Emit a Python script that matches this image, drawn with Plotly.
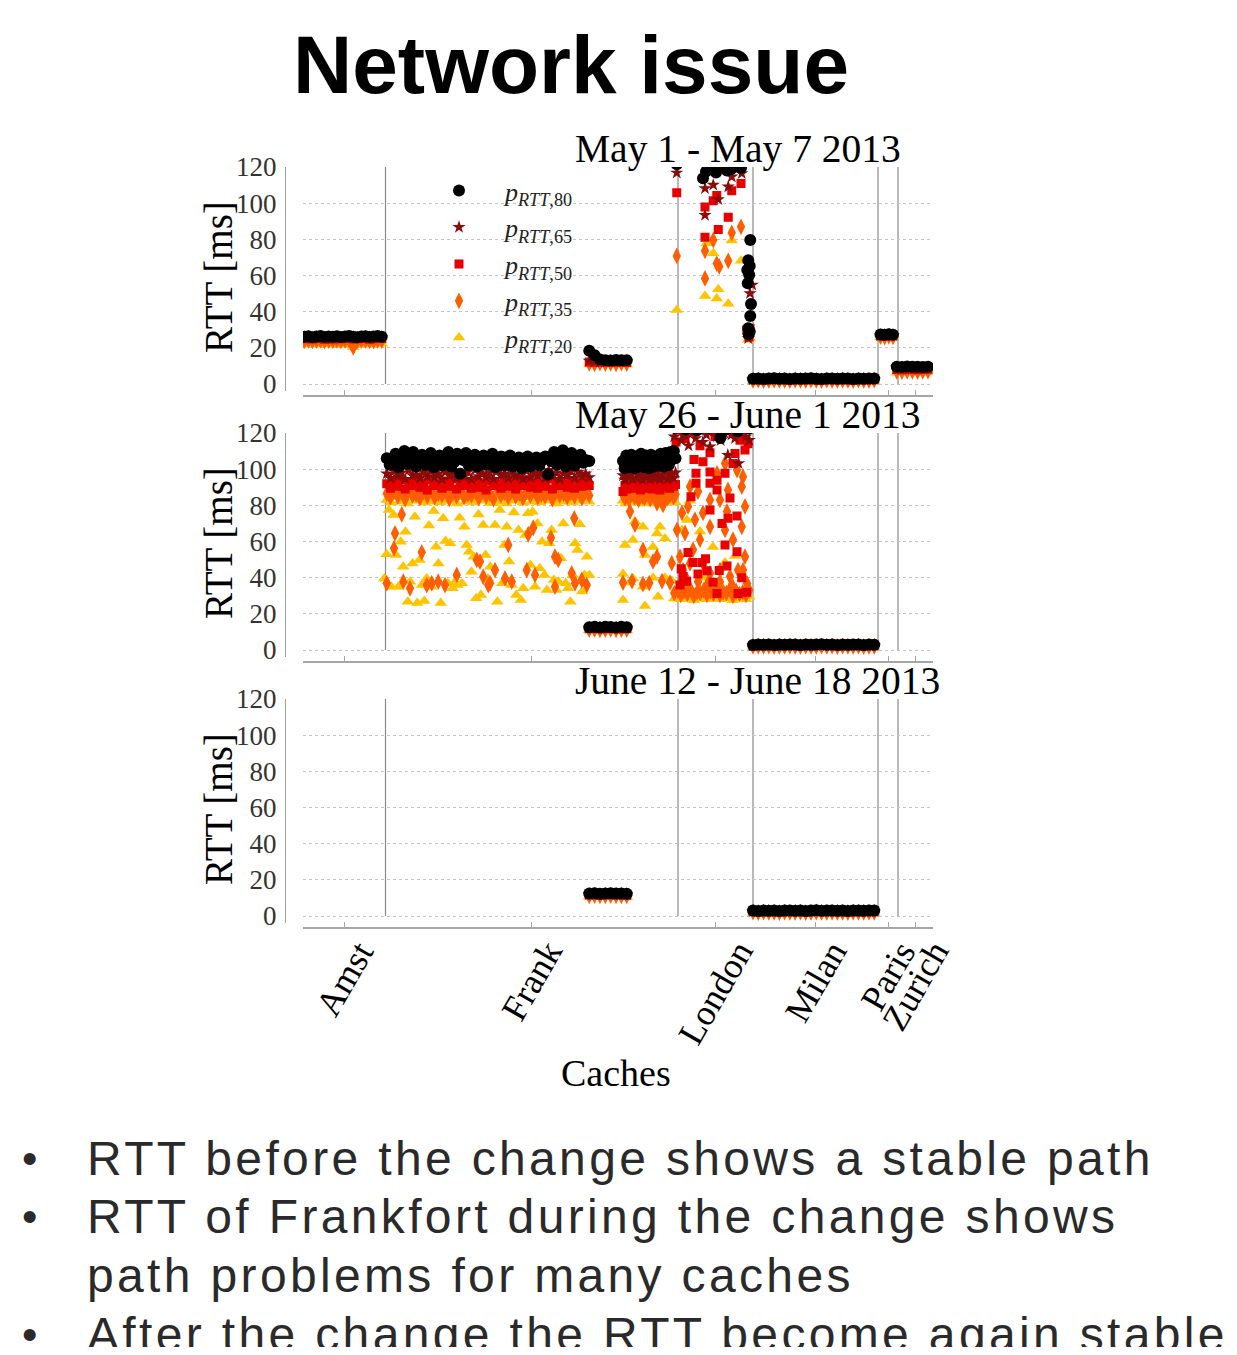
import numpy as np
import plotly.graph_objects as go

# ---------------- chart data ----------------
CACHES = ["Amst", "Frank", "London", "Milan", "Paris", "Zurich"]
CACHE_COUNTS = [33, 117, 30, 50, 8, 14]          # caches per city (x = cache index)
Y_TICKS = [0, 20, 40, 60, 80, 100, 120]
PANEL_TITLES = ["May 1 - May 7 2013", "May 26 - June 1 2013", "June 12 - June 18 2013"]
SERIES = ["p80", "p65", "p50", "p35", "p20"]
SERIES_LABELS = {
    "p80": "<i>p</i><sub><i>RTT</i>,80</sub>",
    "p65": "<i>p</i><sub><i>RTT</i>,65</sub>",
    "p50": "<i>p</i><sub><i>RTT</i>,50</sub>",
    "p35": "<i>p</i><sub><i>RTT</i>,35</sub>",
    "p20": "<i>p</i><sub><i>RTT</i>,20</sub>",
}

# ---- Panel 1 : May 1 - May 7 2013 (RTT in ms) ----
P1_AMST_RANGE = (0, 31)
P1_AMST_P80 = [26.1, 26.4, 25.9, 26.2, 26.5, 26.0, 26.3, 26.1, 26.4, 26.0,
               26.2, 26.5, 26.1, 25.9, 26.3, 26.4, 26.0, 26.2, 26.5, 26.1]
P1_AMST_P65 = [25.7, 25.9, 25.6, 25.8, 26.0, 25.7, 25.8, 25.6, 25.9, 25.7,
               25.8, 26.0, 25.7, 25.6, 25.9, 25.8, 25.7, 25.9, 26.0, 25.8]
P1_AMST_P50 = [25.0, 25.3, 24.9, 25.1, 25.2, 24.8, 25.0, 24.9, 25.2, 25.0,
               25.1, 25.3, 24.9, 25.0, 25.2, 25.1, 24.8, 25.0, 25.2, 25.1]
P1_AMST_P35 = [23.9, 24.2, 23.8, 24.0, 24.1, 23.7, 24.0, 23.9, 24.1, 23.8,
               24.0, 24.2, 20.2, 23.8, 24.0, 24.1, 23.9, 23.7, 24.1, 24.0]
P1_AMST_P20 = [22.4, 22.0, 22.6, 21.8, 22.3, 22.1, 22.5, 22.2, 21.6, 22.4,
               22.0, 21.9, 20.4, 22.3, 21.7, 22.5, 22.1, 21.8, 22.4, 22.2]

P1_FRANK_RANGE = (114, 129)
P1_FRANK_P80 = [18.4, 15.9, 13.6, 13.2, 13.0, 13.3, 13.1, 13.2]
P1_FRANK_P65 = [12.8, 12.6, 12.7, 12.5, 12.8, 12.6, 12.7, 12.6]
P1_FRANK_P50 = [12.1, 12.0, 12.2, 11.9, 12.1, 12.0, 12.2, 12.0]
P1_FRANK_P35 = [11.4, 11.2, 11.5, 11.3, 11.4, 11.2, 11.5, 11.3]
P1_FRANK_P20 = [10.8, 10.6, 10.9, 10.7, 10.8, 10.6, 10.9, 10.7]

P1_LON_P80_IDX = [149, 159.5, 160.7, 162.7, 164.7, 166.7, 169.1, 170.7, 173.1, 174.7,
                  178.4, 177.6, 178.2, 177.2, 178.0, 177.4, 178.7, 178.4, 177.6, 178.2, 177.8]
P1_LON_P80 = [121.5, 113.8, 117.5, 120.8, 117.0, 121.0, 118.0, 118.8, 121.2, 119.5,
              79.6, 68.5, 65.2, 63.1, 60.3, 55.7, 44.2, 37.6, 30.8, 29.0, 27.5]
P1_LON_P65_IDX = [149, 161.0, 160.3, 163.6, 165.6, 160.3, 169.6, 171.0, 175.0, 179.2, 178.3, 177.6]
P1_LON_P65 = [116.8, 119.7, 108.2, 110.1, 102.1, 93.4, 109.1, 114.6, 116.5, 54.8, 50.1, 25.2]
P1_LON_P50_IDX = [149, 160.3, 163.6, 165.0, 169.6, 171.0, 174.7, 160.3, 165.6, 177.0, 177.6, 178.3, 177.9]
P1_LON_P50 = [105.8, 97.9, 101.3, 104.2, 92.2, 106.9, 110.9, 81.1, 85.5, 29.8, 27.2, 30.8, 26.0]
P1_LON_P35_IDX = [149, 160.3, 163.6, 160.3, 165.0, 166.0, 169.6, 171.0, 174.7, 177.4, 178.2]
P1_LON_P35 = [70.8, 73.7, 79.6, 58.4, 66.6, 65.0, 68.1, 83.6, 86.9, 29.9, 27.5]
P1_LON_P20_IDX = [149, 160.3, 165.0, 165.6, 169.6, 161.0, 171.0, 174.7, 163.6, 177.6, 178.2]
P1_LON_P20 = [40.9, 48.6, 47.3, 52.4, 44.4, 77.8, 79.3, 68.1, 72.3, 24.5, 25.5]

P1_MILAN_RANGE = (179.5, 228)
P1_MILAN_P80 = [2.9, 3.1, 2.8, 3.0, 3.2, 2.9, 3.0, 2.8, 3.1, 2.9, 3.0, 3.2,
                2.9, 2.8, 3.1, 3.0, 2.9, 3.1, 3.0, 2.8, 3.1, 2.9, 3.0, 3.1]
P1_MILAN_P65 = [2.6, 2.7, 2.5, 2.6, 2.8, 2.6, 2.7, 2.5, 2.7, 2.6, 2.6, 2.8,
                2.6, 2.5, 2.7, 2.6, 2.6, 2.7, 2.6, 2.5, 2.7, 2.6, 2.6, 2.7]
P1_MILAN_P50 = [2.3, 2.4, 2.2, 2.3, 2.4, 2.3, 2.3, 2.2, 2.4, 2.3, 2.3, 2.4,
                2.3, 2.2, 2.4, 2.3, 2.3, 2.4, 2.3, 2.2, 2.4, 2.3, 2.3, 2.4]
P1_MILAN_P35 = [2.0, 2.1, 1.9, 2.0, 2.1, 2.0, 2.0, 1.9, 2.1, 2.0, 2.0, 2.1,
                2.0, 1.9, 2.1, 2.0, 2.0, 2.1, 2.0, 1.9, 2.1, 2.0, 2.0, 2.1]
P1_MILAN_P20 = [1.7, 1.8, 1.6, 1.7, 1.8, 1.7, 1.7, 1.6, 1.8, 1.7, 1.7, 1.8,
                1.7, 1.6, 1.8, 1.7, 1.7, 1.8, 1.7, 1.6, 1.8, 1.7, 1.7, 1.8]

P1_PARIS_RANGE = (230.5, 235.5)
P1_PARIS_P80 = [27.4, 27.2, 27.5, 27.3]
P1_PARIS_P65 = [27.0, 26.9, 27.1, 27.0]
P1_PARIS_P50 = [26.6, 26.5, 26.7, 26.6]
P1_PARIS_P35 = [26.2, 26.0, 26.3, 26.1]
P1_PARIS_P20 = [25.8, 25.6, 25.9, 25.7]

P1_ZURICH_RANGE = (237, 249.5)
P1_ZURICH_P80 = [9.6, 9.4, 9.7, 9.5, 9.6, 9.4, 9.5]
P1_ZURICH_P65 = [9.0, 8.9, 9.1, 9.0, 8.9, 9.0, 9.1]
P1_ZURICH_P50 = [8.0, 7.9, 8.1, 8.0, 7.9, 8.0, 8.1]
P1_ZURICH_P35 = [7.0, 6.9, 7.1, 7.0, 6.9, 7.0, 7.1]
P1_ZURICH_P20 = [6.2, 6.1, 6.3, 6.2, 6.1, 6.2, 6.3]

# ---- Panel 2 : May 26 - June 1 2013 ----
P2_FRANK_A_RANGE = (33, 114)
P2_FRANK_A_P80 = [106.0, 102.5, 104.0, 108.5, 101.0, 105.5, 110.0, 103.0, 106.5, 109.5,
                  101.5, 105.0, 108.0, 102.5, 106.0, 109.0, 101.0, 104.5, 107.5, 102.0,
                  105.5, 109.5, 101.5, 104.0, 108.5, 97.5, 105.0, 109.0, 102.0, 106.0,
                  108.0, 101.5, 104.5, 107.5, 102.5, 105.5, 108.5, 101.0, 104.0, 107.0,
                  102.0, 105.0, 107.5, 101.5, 104.5, 106.5, 100.5, 103.5, 107.0, 101.5,
                  104.0, 106.5, 102.0, 105.0, 107.0, 97.0, 104.5, 109.5, 102.5, 106.0,
                  110.5, 101.5, 105.5, 109.0, 102.0, 106.5, 108.0, 103.5, 105.0, 104.5]
P2_FRANK_A_P65 = [97.5, 95.0, 99.0, 96.0, 98.0, 94.5, 99.5, 96.5, 97.0, 95.0,
                  98.5, 96.0, 99.0, 95.5, 97.5, 94.5, 98.5, 96.5, 99.0, 95.0,
                  97.0, 96.0, 98.5, 94.5, 99.5, 96.0, 97.5, 95.5, 98.0, 94.5,
                  99.0, 96.5, 97.5, 95.0, 98.5, 96.0, 97.0, 94.5, 99.0, 95.5,
                  98.0, 96.5, 97.5, 95.0, 99.5, 96.0, 98.0, 94.5, 97.5, 96.5,
                  99.0, 95.0, 98.5, 96.0, 97.5, 95.5]
P2_FRANK_A_P50 = [92.0, 89.5, 93.5, 90.5, 94.0, 89.0, 92.5, 91.0, 93.5, 90.0,
                  92.5, 88.5, 94.0, 91.0, 92.0, 89.5, 93.5, 90.5, 94.5, 89.0,
                  92.0, 91.0, 93.0, 89.5, 94.0, 90.0, 92.5, 88.5, 93.5, 91.0,
                  92.0, 89.5, 94.0, 90.5, 93.0, 89.0, 92.5, 91.0, 94.0, 90.0,
                  93.0, 89.5, 92.5, 90.5, 94.5, 89.0, 93.0, 91.0, 92.0, 90.0,
                  93.5, 89.5, 92.5, 90.5, 94.0, 91.0]
P2_FRANK_A_P35_BAND = [86.5, 84.5, 88.0, 85.0, 87.5, 83.5, 88.5, 85.5, 86.0, 84.0,
                       87.5, 85.0, 89.0, 84.5, 86.5, 85.5, 88.0, 83.5, 87.0, 85.0,
                       88.5, 84.5, 86.0, 85.5, 87.5, 84.0, 88.0, 85.0, 86.5, 83.5,
                       89.0, 85.5, 87.0, 84.5, 88.0, 85.0, 86.5, 84.0, 87.5, 85.5,
                       88.5, 84.5, 86.0, 85.0, 87.5, 83.5, 88.0, 85.5, 86.5, 84.5,
                       87.0, 85.0, 88.5, 84.0, 87.5, 85.5]
P2_FRANK_A_P20_BAND = [83.0, 81.5, 84.5, 82.0, 83.5, 81.0, 84.0, 82.5, 83.0, 81.5,
                       84.5, 82.0, 83.5, 81.5, 84.0, 82.5, 83.0, 81.0, 84.5, 82.0,
                       83.5, 81.5, 84.0, 82.5, 83.0, 81.5, 84.5, 82.0, 83.5, 81.0,
                       84.0, 82.5, 83.0, 81.5, 84.5, 82.0, 83.5, 81.5, 84.0, 82.5,
                       83.0, 81.0, 84.5, 82.0, 83.5, 81.5, 84.0, 82.5, 83.0, 82.0]
P2_FRANK_A_P35_SC_IDX = [33.0, 35.9, 36.3, 39.0, 39.6, 42.3, 47.0, 49.0, 51.0, 53.6,
                         56.3, 61.0, 69.0, 70.3, 71.6, 73.6, 74.3, 76.3, 80.3, 81.6,
                         83.0, 89.0, 89.6, 91.6, 92.3, 98.7, 100.3, 100.3, 101.6, 107.0,
                         108.0, 108.3, 111.0, 113.0]
P2_FRANK_A_P35_SC = [36.9, 56.2, 64.5, 75.0, 37.8, 34.1, 54.0, 35.9, 36.9, 37.8,
                     35.9, 41.5, 49.8, 48.9, 40.5, 35.9, 36.9, 44.2, 39.6, 58.1,
                     37.8, 44.2, 64.0, 67.6, 41.5, 62.1, 51.6, 35.0, 49.8, 42.4,
                     72.8, 36.9, 38.7, 35.9]
P2_FRANK_A_P20_SC_RANGE = (32, 114)
P2_FRANK_A_P20_SC = [39.6, 52.9, 77.4, 35.0, 74.7, 52.5, 35.0, 59.9, 46.1, 65.4,
                     26.7, 37.8, 47.9, 73.7, 26.0, 49.8, 35.9, 27.1, 39.6, 68.8,
                     35.0, 76.9, 57.1, 47.9, 26.0, 72.8, 60.3, 36.9, 59.0, 34.1,
                     37.8, 35.9, 73.2, 36.9, 68.2, 58.1, 54.4, 43.3, 51.6, 28.6,
                     75.0, 30.4, 69.1, 52.5, 39.6, 46.1, 81.1, 69.1, 26.7, 77.4,
                     36.9, 58.1, 68.2, 48.9, 35.9, 76.1, 30.4, 66.4, 27.7, 34.1,
                     63.6, 75.6, 47.0, 76.4, 35.0, 70.0, 45.2, 59.9, 41.5, 33.2,
                     59.0, 66.4, 38.7, 33.2, 37.8, 50.7, 70.0, 36.9, 34.1, 26.7,
                     41.5, 59.0, 55.3, 69.6, 32.3, 41.5, 51.6, 41.5]

P2_FRANK_BAND_RANGE = (114, 129)
P2_FRANK_BAND_P80 = [12.6, 12.9, 12.5, 12.8, 12.7, 12.5, 12.9, 12.6]
P2_FRANK_BAND_P65 = [12.2, 12.4, 12.1, 12.3, 12.2, 12.1, 12.4, 12.2]
P2_FRANK_BAND_P50 = [11.8, 11.9, 11.7, 11.8, 11.9, 11.7, 11.8, 11.8]
P2_FRANK_BAND_P35 = [11.3, 11.4, 11.2, 11.3, 11.4, 11.2, 11.3, 11.3]
P2_FRANK_BAND_P20 = [10.9, 11.0, 10.8, 10.9, 11.0, 10.8, 10.9, 10.9]

P2_FRANK_B_RANGE = (127.5, 148.5)
P2_FRANK_B_P80 = [104.5, 100.5, 107.5, 103.0, 101.0, 108.0, 104.0, 100.5, 107.0, 103.5,
                  101.5, 108.5, 104.0, 101.0, 107.5, 103.0, 100.5, 108.0, 104.5, 101.5,
                  107.0, 103.5, 102.0, 108.5, 105.0, 101.5, 109.0, 104.5, 102.5, 109.5,
                  105.5, 110.0, 106.0]
P2_FRANK_B_P65 = [96.5, 94.0, 98.0, 95.5, 97.0, 94.5, 98.5, 95.0, 96.5, 97.5,
                  94.0, 98.0, 95.5, 96.5, 94.5, 97.5, 95.0, 98.0, 96.0, 94.5,
                  97.0, 95.5, 98.5, 94.5, 96.5, 97.5, 95.0, 98.0]
P2_FRANK_B_P50 = [87.6, 91.0, 89.0, 92.5, 90.0, 93.0, 89.5, 91.5, 92.5, 88.5,
                  91.0, 93.5, 89.5, 90.5, 92.0, 89.0, 93.0, 90.5, 91.5, 88.5,
                  92.5, 90.0, 91.0, 93.0, 89.5, 92.0, 90.5, 91.5]
P2_FRANK_B_P35_BAND = [86.0, 84.0, 87.5, 83.5, 85.5, 87.0, 84.5, 86.5, 83.0, 88.0,
                       85.0, 84.0, 86.5, 87.5, 83.5, 85.5, 86.0, 84.5, 87.0, 83.5,
                       86.5, 85.0, 88.0, 84.0, 85.5, 87.0, 84.5, 86.0]
P2_FRANK_B_P20_BAND = [82.5, 81.0, 83.5, 82.0, 84.0, 81.5, 83.0, 82.5, 83.5, 81.0,
                       82.5, 83.0, 81.5, 84.0, 82.0, 83.0, 81.5, 83.5, 82.0, 84.0,
                       82.5, 81.5]
P2_FRANK_B_P35_SC_IDX = [127.5, 130.3, 131.1, 132.3, 135.5, 135.5, 138.0, 139.5, 141.1, 141.1,
                         143.1, 143.5, 146.3, 147.0]
P2_FRANK_B_P35_SC = [37.3, 76.6, 38.1, 69.3, 55.3, 36.5, 37.0, 49.0, 51.6, 81.1,
                     38.1, 80.2, 37.3, 48.0]
P2_FRANK_B_P20_SC_IDX = [127.5, 127.5, 128.3, 130.3, 131.5, 131.5, 132.3, 135.5, 135.5, 136.3,
                         136.3, 139.5, 139.5, 141.1, 141.5, 142.3, 144.3, 144.3, 147.1]
P2_FRANK_B_P20_SC = [42.0, 27.6, 58.1, 37.3, 60.8, 39.6, 71.0, 68.1, 35.0, 52.5,
                     24.3, 57.0, 40.0, 64.4, 29.5, 68.1, 61.7, 40.0, 38.1]

P2_LON_RANGE = (148, 178)
P2_LON_P80 = [123.0, 125.0, 122.0, 124.0, 121.5, 126.0, 123.0, 124.0, 117.2, 122.0,
              125.0, 121.0, 124.0, 122.5]
P2_LON_P65 = [118.0, 121.0, 116.0, 119.0, 113.0, 120.0, 117.0, 122.0, 115.0, 119.0,
              112.4, 121.0, 118.0, 116.0, 120.0, 107.8, 119.0, 117.0, 103.2, 121.0,
              118.0, 116.0]
P2_LON_P50_IDX = [148.7, 150.3, 151.5, 152.3, 153.5, 154.7, 155.5, 155.9, 156.7, 156.7,
                  158.3, 159.1, 159.5, 161.1, 162.3, 162.3, 162.3, 162.3, 164.3, 165.1,
                  165.1, 165.1, 167.1, 168.3, 168.3, 169.1, 169.5, 170.3, 171.5, 172.3,
                  173.1, 173.1, 173.5, 174.3, 176.3, 177.5, 150.8, 153.0, 157.5, 160.5,
                  163.5, 166.0, 175.0, 177.0]
P2_LON_P50 = [115.0, 35.9, 40.6, 117.0, 53.9, 84.8, 48.4, 105.4, 97.7, 92.2,
              113.0, 48.4, 104.1, 43.8, 109.1, 98.5, 92.2, 77.4, 118.0, 93.9,
              88.5, 31.3, 70.0, 97.7, 58.1, 46.4, 72.8, 84.0, 103.2, 108.7,
              74.1, 54.4, 31.3, 116.0, 110.6, 114.0, 45.0, 38.0, 42.0, 50.5,
              37.5, 44.0, 40.0, 32.0]
P2_LON_P35_BAND = [31.5, 33.0, 30.5, 32.5, 31.0, 33.5, 30.0, 32.0, 31.5, 33.0,
                   30.5, 32.5, 31.0, 33.0, 30.5, 32.0, 31.5, 33.5, 30.0, 32.5,
                   31.0, 32.0, 30.5, 33.0]
P2_LON_P35_SC_IDX = [175.0, 176.3, 175.0, 176.3, 175.5, 177.1, 169.5, 166.3, 169.1, 168.3,
                     171.5, 162.3, 159.5, 162.3, 158.3, 155.5, 153.5, 156.3, 152.3, 150.3,
                     154.3, 159.5, 162.3, 166.3, 170.3, 173.5, 153.1, 157.5, 161.5, 166.3,
                     171.1, 151.1, 157.5, 165.1, 168.3, 173.1, 175.5, 154.3, 149.1, 151.5]
P2_LON_P35_SC = [90.3, 79.4, 68.1, 51.6, 44.2, 36.9, 88.5, 83.0, 76.6, 66.4,
                 61.0, 83.0, 75.8, 68.1, 61.0, 55.5, 79.4, 72.1, 64.7, 51.6,
                 47.9, 47.9, 42.4, 44.2, 40.6, 44.2, 38.7, 37.8, 36.9, 37.8,
                 36.0, 75.8, 87.6, 97.7, 103.2, 99.5, 95.8, 90.3, 66.4, 44.2]
P2_LON_P20_BAND = [28.5, 29.5, 28.0, 29.0, 28.5, 30.0, 27.5, 29.0, 28.5, 29.5,
                   28.0, 29.0, 28.5, 30.0, 28.0, 29.5, 28.5, 29.0, 27.5, 29.5,
                   28.5, 29.0, 28.0, 29.5]
P2_LON_P20_SC_IDX = [151.1, 153.1, 158.3, 163.5, 168.3, 154.3, 160.3, 172.3, 176.3, 166.3]
P2_LON_P20_SC = [66.4, 71.9, 65.5, 57.0, 48.4, 82.5, 40.0, 52.0, 32.5, 36.0]

P2_MILAN_RANGE = (179.5, 228)
P2_MILAN_P80 = [2.8, 3.0, 2.9, 3.1, 2.8, 3.0, 2.9, 3.1, 3.0, 2.8, 3.1, 2.9,
                3.0, 3.2, 2.9, 3.0, 2.8, 3.1, 2.9, 3.0, 3.1, 2.8, 3.0, 2.9]
P2_MILAN_P65 = [2.5, 2.7, 2.6, 2.7, 2.5, 2.6, 2.6, 2.7, 2.6, 2.5, 2.7, 2.6,
                2.6, 2.8, 2.6, 2.7, 2.5, 2.7, 2.6, 2.6, 2.7, 2.5, 2.6, 2.6]
P2_MILAN_P50 = [2.2, 2.4, 2.3, 2.4, 2.2, 2.3, 2.3, 2.4, 2.3, 2.2, 2.4, 2.3,
                2.3, 2.5, 2.3, 2.4, 2.2, 2.4, 2.3, 2.3, 2.4, 2.2, 2.3, 2.3]
P2_MILAN_P35 = [2.0, 2.1, 2.0, 2.1, 1.9, 2.0, 2.0, 2.1, 2.0, 1.9, 2.1, 2.0,
                2.0, 2.2, 2.0, 2.1, 1.9, 2.1, 2.0, 2.0, 2.1, 1.9, 2.0, 2.0]
P2_MILAN_P20 = [1.7, 1.8, 1.7, 1.8, 1.6, 1.7, 1.7, 1.8, 1.7, 1.6, 1.8, 1.7,
                1.7, 1.9, 1.7, 1.8, 1.6, 1.8, 1.7, 1.7, 1.8, 1.6, 1.7, 1.7]

# ---- Panel 3 : June 12 - June 18 2013 ----
P3_FRANK_RANGE = (114, 129)
P3_FRANK_P80 = [12.4, 12.6, 12.3, 12.5, 12.6, 12.4, 12.5, 12.3]
P3_FRANK_P65 = [12.0, 12.2, 11.9, 12.1, 12.2, 12.0, 12.1, 11.9]
P3_FRANK_P50 = [11.6, 11.8, 11.5, 11.7, 11.8, 11.6, 11.7, 11.5]
P3_FRANK_P35 = [11.2, 11.3, 11.1, 11.2, 11.3, 11.2, 11.2, 11.1]
P3_FRANK_P20 = [10.8, 10.9, 10.7, 10.8, 10.9, 10.8, 10.8, 10.7]

P3_MILAN_RANGE = (179.5, 228)
P3_MILAN_P80 = [3.0, 2.8, 3.1, 2.9, 3.0, 2.8, 3.1, 3.0, 2.9, 3.1, 2.8, 3.0,
                3.2, 2.9, 3.0, 3.1, 2.9, 3.0, 2.8, 3.1, 3.0, 2.9, 3.1, 3.0]
P3_MILAN_P65 = [2.7, 2.5, 2.7, 2.6, 2.6, 2.5, 2.7, 2.6, 2.6, 2.7, 2.5, 2.6,
                2.8, 2.6, 2.6, 2.7, 2.6, 2.6, 2.5, 2.7, 2.6, 2.6, 2.7, 2.6]
P3_MILAN_P50 = [2.4, 2.2, 2.4, 2.3, 2.3, 2.2, 2.4, 2.3, 2.3, 2.4, 2.2, 2.3,
                2.5, 2.3, 2.3, 2.4, 2.3, 2.3, 2.2, 2.4, 2.3, 2.3, 2.4, 2.3]
P3_MILAN_P35 = [2.1, 1.9, 2.1, 2.0, 2.0, 1.9, 2.1, 2.0, 2.0, 2.1, 1.9, 2.0,
                2.2, 2.0, 2.0, 2.1, 2.0, 2.0, 1.9, 2.1, 2.0, 2.0, 2.1, 2.0]
P3_MILAN_P20 = [1.8, 1.6, 1.8, 1.7, 1.7, 1.6, 1.8, 1.7, 1.7, 1.8, 1.6, 1.7,
                1.9, 1.7, 1.7, 1.8, 1.7, 1.7, 1.6, 1.8, 1.7, 1.7, 1.8, 1.7]

BULLETS = [
    ("•", "RTT before the change shows a stable path"),
    ("•", "RTT of Frankfort during the change shows"),
    ("", "path problems for many caches"),
    ("•", "After the change the RTT become again stable"),
]

# ---------------- styles / page geometry ----------------
PAGE_W, PAGE_H = 1237, 1355
BODY_MARGIN = 8                     # default browser body margin around the plot div
W, H = PAGE_W - 2 * BODY_MARGIN, PAGE_H - 2 * BODY_MARGIN
COLORS = {"p80": "#000000", "p65": "#8b0a0a", "p50": "#e80000", "p35": "#ff5e00", "p20": "#ffc400"}
SYMBOLS = {"p80": "circle", "p65": "star", "p50": "square", "p35": "diamond-tall", "p20": "triangle-up"}
SIZES = {"p80": 12, "p65": 10, "p50": 9, "p35": 12, "p20": 11}
RANKS = {"p80": 1, "p65": 2, "p50": 3, "p35": 4, "p20": 5}
SERIF = "Liberation Serif, Times New Roman, serif"
SANS = "Liberation Sans, Arial, sans-serif"


def px_x(p):
    return (p - BODY_MARGIN) / W


def px_y(p):
    return 1 - (p - BODY_MARGIN) / H


def new_store():
    return {s: ([], []) for s in SERIES}


def add_spread(store, key, rng, vals):
    xs = np.linspace(rng[0], rng[1], len(vals)) if len(vals) > 1 else [rng[0]]
    store[key][0].extend(list(xs))
    store[key][1].extend(vals)


def add_points(store, key, idx, vals):
    store[key][0].extend(idx)
    store[key][1].extend(vals)


def add_band(store, rng, p80, p65, p50, p35, p20):
    for key, vals in zip(SERIES, [p80, p65, p50, p35, p20]):
        add_spread(store, key, rng, vals)


# panel 1
p1 = new_store()
add_band(p1, P1_AMST_RANGE, P1_AMST_P80, P1_AMST_P65, P1_AMST_P50, P1_AMST_P35, P1_AMST_P20)
add_band(p1, P1_FRANK_RANGE, P1_FRANK_P80, P1_FRANK_P65, P1_FRANK_P50, P1_FRANK_P35, P1_FRANK_P20)
add_points(p1, "p80", P1_LON_P80_IDX, P1_LON_P80)
add_points(p1, "p65", P1_LON_P65_IDX, P1_LON_P65)
add_points(p1, "p50", P1_LON_P50_IDX, P1_LON_P50)
add_points(p1, "p35", P1_LON_P35_IDX, P1_LON_P35)
add_points(p1, "p20", P1_LON_P20_IDX, P1_LON_P20)
add_band(p1, P1_MILAN_RANGE, P1_MILAN_P80, P1_MILAN_P65, P1_MILAN_P50, P1_MILAN_P35, P1_MILAN_P20)
add_band(p1, P1_PARIS_RANGE, P1_PARIS_P80, P1_PARIS_P65, P1_PARIS_P50, P1_PARIS_P35, P1_PARIS_P20)
add_band(p1, P1_ZURICH_RANGE, P1_ZURICH_P80, P1_ZURICH_P65, P1_ZURICH_P50, P1_ZURICH_P35, P1_ZURICH_P20)

# panel 2
p2 = new_store()
add_spread(p2, "p20", P2_FRANK_A_P20_SC_RANGE, P2_FRANK_A_P20_SC)
add_points(p2, "p35", P2_FRANK_A_P35_SC_IDX, P2_FRANK_A_P35_SC)
add_band(p2, P2_FRANK_A_RANGE, P2_FRANK_A_P80, P2_FRANK_A_P65, P2_FRANK_A_P50,
         P2_FRANK_A_P35_BAND, P2_FRANK_A_P20_BAND)
add_band(p2, P2_FRANK_BAND_RANGE, P2_FRANK_BAND_P80, P2_FRANK_BAND_P65, P2_FRANK_BAND_P50,
         P2_FRANK_BAND_P35, P2_FRANK_BAND_P20)
add_points(p2, "p20", P2_FRANK_B_P20_SC_IDX, P2_FRANK_B_P20_SC)
add_points(p2, "p35", P2_FRANK_B_P35_SC_IDX, P2_FRANK_B_P35_SC)
add_band(p2, P2_FRANK_B_RANGE, P2_FRANK_B_P80, P2_FRANK_B_P65, P2_FRANK_B_P50,
         P2_FRANK_B_P35_BAND, P2_FRANK_B_P20_BAND)
add_spread(p2, "p80", P2_LON_RANGE, P2_LON_P80)
add_spread(p2, "p65", P2_LON_RANGE, P2_LON_P65)
add_points(p2, "p50", P2_LON_P50_IDX, P2_LON_P50)
add_spread(p2, "p35", P2_LON_RANGE, P2_LON_P35_BAND)
add_points(p2, "p35", P2_LON_P35_SC_IDX, P2_LON_P35_SC)
add_spread(p2, "p20", P2_LON_RANGE, P2_LON_P20_BAND)
add_points(p2, "p20", P2_LON_P20_SC_IDX, P2_LON_P20_SC)
add_band(p2, P2_MILAN_RANGE, P2_MILAN_P80, P2_MILAN_P65, P2_MILAN_P50, P2_MILAN_P35, P2_MILAN_P20)

# panel 3
p3 = new_store()
add_band(p3, P3_FRANK_RANGE, P3_FRANK_P80, P3_FRANK_P65, P3_FRANK_P50, P3_FRANK_P35, P3_FRANK_P20)
add_band(p3, P3_MILAN_RANGE, P3_MILAN_P80, P3_MILAN_P65, P3_MILAN_P50, P3_MILAN_P35, P3_MILAN_P20)

PANELS = [p1, p2, p3]

# ---------------- figure ----------------
bounds = np.cumsum([0] + CACHE_COUNTS)
separators = [b - 0.5 for b in bounds[1:-1]]
centers = [(bounds[i] + bounds[i + 1] - 1) / 2 for i in range(len(CACHES))]
x_range = [-0.5, bounds[-1] - 0.5]

fig = go.Figure()
PX_PER_MS = 217 / 120
Y_MIN = -4

layout = dict(
    width=W, height=H, autosize=False,
    margin=dict(l=0, r=0, t=0, b=0, pad=0, autoexpand=False),
    paper_bgcolor="white", plot_bgcolor="white",
    showlegend=True,
    legend=dict(
        x=px_x(413), y=px_y(167), xanchor="left", yanchor="top",
        bgcolor="rgba(0,0,0,0)", font=dict(family=SERIF, size=26, color="#222"),
        itemwidth=82, traceorder="grouped", tracegroupgap=0,
    ),
)

shapes = []
annotations = []

for k, store in enumerate(PANELS):
    n = k + 1
    xa = "x" if n == 1 else f"x{n}"
    ya = "y" if n == 1 else f"y{n}"
    top = 167 + 266 * k
    zero = 384 + 266 * k
    bottom = zero - Y_MIN * PX_PER_MS
    for s in reversed(SERIES):
        xs, ys = store[s]
        fig.add_trace(go.Scatter(
            x=xs, y=ys, mode="markers", xaxis=xa, yaxis=ya,
            name=SERIES_LABELS[s], legendgroup=s, legendrank=RANKS[s], showlegend=(k == 0),
            marker=dict(symbol=SYMBOLS[s], size=SIZES[s], color=COLORS[s], line=dict(width=0)),
            hoverinfo="skip",
        ))
    layout["xaxis" if n == 1 else f"xaxis{n}"] = dict(
        domain=[px_x(303), px_x(933)], range=x_range, anchor="free", automargin=False,
        position=px_y(396 + 266 * k), showline=True, linecolor="#a6a6a6", linewidth=2,
        ticks="inside", ticklen=5, tickcolor="#a6a6a6", tickwidth=1.2,
        tickvals=centers, showticklabels=False, showgrid=False, zeroline=False,
    )
    layout["yaxis" if n == 1 else f"yaxis{n}"] = dict(
        domain=[px_y(bottom), px_y(top)], range=[Y_MIN, 120], anchor="free", automargin=False,
        position=px_x(285), showline=True, linecolor="#a0a0a0", linewidth=1.3,
        tickvals=Y_TICKS, ticks="", ticklabelstandoff=3,
        tickfont=dict(family=SERIF, size=27, color="#333"),
        showgrid=True, gridcolor="#c4c4c4", griddash="dot", gridwidth=1, zeroline=False,
    )
    for sx in separators:
        shapes.append(dict(type="line", xref=xa, yref=ya, x0=sx, x1=sx, y0=0, y1=120,
                           line=dict(color="#8a8a8a", width=1.2), layer="below"))
    annotations.append(dict(
        text=PANEL_TITLES[k], xref="paper", yref="paper", x=px_x(573), y=px_y(149 + 266 * k),
        xanchor="left", yanchor="middle", showarrow=False,
        font=dict(family=SERIF, size=39.5, color="black"),
    ))
    annotations.append(dict(
        text="RTT [ms]", xref="paper", yref="paper", x=px_x(218), y=px_y(277 + 266 * k),
        xanchor="center", yanchor="middle", textangle=-90, showarrow=False,
        font=dict(family=SERIF, size=39, color="black"),
    ))

for name, c in zip(CACHES, centers):
    annotations.append(dict(
        text=name, xref="x3", yref="paper", x=c, y=px_y(932),
        xanchor="center", yanchor="top", textangle=-60, showarrow=False,
        font=dict(family=SERIF, size=36, color="black"),
    ))

annotations.append(dict(
    text="Caches", xref="paper", yref="paper", x=px_x(616), y=px_y(1073),
    xanchor="center", yanchor="middle", showarrow=False,
    font=dict(family=SERIF, size=38, color="black"),
))
annotations.append(dict(
    text="<b>Network issue</b>", xref="paper", yref="paper", x=px_x(571), y=px_y(65),
    xanchor="center", yanchor="middle", showarrow=False,
    font=dict(family=SANS, size=82, color="black"),
))

line_y = [1158, 1216, 1275, 1334]
for (bullet, text), ly in zip(BULLETS, line_y):
    if bullet:
        annotations.append(dict(
            text=bullet, xref="paper", yref="paper", x=px_x(29), y=px_y(ly),
            xanchor="center", yanchor="middle", showarrow=False,
            font=dict(family=SANS, size=44, color="#2a2a2a"),
        ))
    annotations.append(dict(
        text=f"<span style='letter-spacing:3.35px'>{text}</span>", xref="paper", yref="paper",
        x=px_x(85), y=px_y(ly), xanchor="left", yanchor="middle", showarrow=False,
        font=dict(family=SANS, size=48, color="#2a2a2a"),
    ))

layout["shapes"] = shapes
layout["annotations"] = annotations
fig.update_layout(**layout)

fig.write_html("out.html", include_plotlyjs=True, full_html=True,
               config={"displayModeBar": False})
